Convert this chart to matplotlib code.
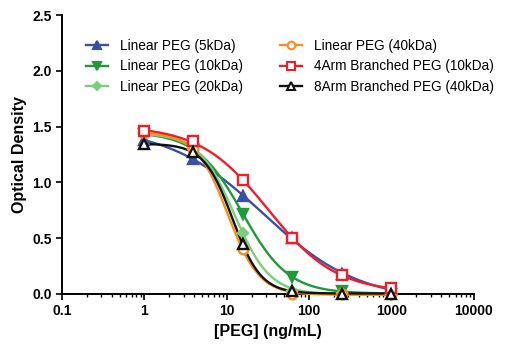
import numpy as np
import matplotlib
matplotlib.use('Agg')
import matplotlib.pyplot as plt

plt.rcParams['font.family'] = ['Liberation Sans', 'DejaVu Sans']

# concentrations (ng/mL), 4-fold dilution
conc = [0.98, 3.9, 15.6, 62.5, 250, 1000]

labels = ['Linear PEG (5kDa)', 'Linear PEG (10kDa)', 'Linear PEG (20kDa)',
          'Linear PEG (40kDa)', '4Arm Branched PEG (10kDa)', '8Arm Branched PEG (40kDa)']
od_5k = [1.38, 1.21, 0.88, 0.50, 0.18, 0.04]
od_10k = [1.43, 1.30, 0.72, 0.15, 0.03, 0.00]
od_20k = [1.44, 1.30, 0.55, 0.03, 0.01, 0.00]
od_40k = [1.44, 1.30, 0.40, 0.00, 0.00, 0.00]
od_4arm = [1.46, 1.37, 1.02, 0.50, 0.17, 0.05]
od_8arm = [1.34, 1.27, 0.45, 0.03, 0.00, 0.00]

colors = ['#3a4fa8', '#1f9a3a', '#7ccf7a', '#f7901e', '#ee1f2b', '#111111']
markers = ['^', 'v', 'D', 'o', 's', '^']
filled = [True, True, True, False, False, False]


def fit_4pl(x, y):
    # crude 4PL fit: grid over logEC50 / hill, top & bottom by linear least squares
    lx = np.log10(x)
    y = np.asarray(y)
    best = None
    for c in np.linspace(0, 3, 301):
        for h in np.linspace(0.5, 5, 91):
            f = 1.0 / (1.0 + 10 ** ((lx - c) * h))
            A = np.vstack([f, 1 - f]).T
            coef, *_ = np.linalg.lstsq(A, y, rcond=None)
            err = np.sum((A @ coef - y) ** 2)
            if best is None or err < best[0]:
                best = (err, c, h, coef)
    return best[1:]


fig = plt.figure(figsize=(5.1, 3.52), dpi=100)
ax = fig.add_axes([0.1216, 0.165, 0.8074, 0.792])

xs = np.logspace(0, 3, 300)
series = [od_5k, od_10k, od_20k, od_40k, od_4arm, od_8arm]
for yv, lab, col, mk, fl in zip(series, labels, colors, markers, filled):
    c, h, (top, bot) = fit_4pl(conc, yv)
    f = 1.0 / (1.0 + 10 ** ((np.log10(xs) - c) * h))
    ax.plot(xs, top * f + bot * (1 - f), color=col, lw=1.7, clip_on=False, zorder=3)
    ms = 7 if mk != 'D' else 5.5
    if mk == 's':
        ms = 7.5
    ax.plot(conc, yv, ls='none', marker=mk, ms=ms, color=col,
            mfc=col if fl else 'white', mew=1.7, clip_on=False, zorder=4)
    ax.plot([], [], color=col, lw=1.7, marker=mk, ms=ms - 1.5, mfc=col if fl else 'white',
            mew=1.5, label=lab)

ax.set_xscale('log')
ax.set_xlim(0.1, 10000)
ax.set_ylim(0, 2.5)
ax.set_yticks([0, 0.5, 1.0, 1.5, 2.0, 2.5])
ax.set_yticklabels(['0.0', '0.5', '1.0', '1.5', '2.0', '2.5'])
ax.set_xticks([0.1, 1, 10, 100, 1000, 10000])
ax.set_xticklabels(['0.1', '1', '10', '100', '1000', '10000'])
for s in ['top', 'right']:
    ax.spines[s].set_visible(False)
for s in ['left', 'bottom']:
    ax.spines[s].set_linewidth(1.4)
ax.tick_params(axis='both', which='major', length=4, width=1.2, labelsize=10)
ax.tick_params(axis='x', which='minor', length=2.5, width=1.0)
for t in ax.get_xticklabels() + ax.get_yticklabels():
    t.set_fontweight('bold')
ax.set_xlabel('[PEG] (ng/mL)', fontsize=11.5, fontweight='bold')
ax.set_ylabel('Optical Density', fontsize=11.5, fontweight='bold')

ax.legend(ncol=2, frameon=False, loc='upper left', bbox_to_anchor=(0.035, 0.95),
          fontsize=9.8, handlelength=1.6, columnspacing=2.7, labelspacing=0.5,
          handletextpad=0.9, borderaxespad=0.3)

fig.savefig('out.png', dpi=100)
